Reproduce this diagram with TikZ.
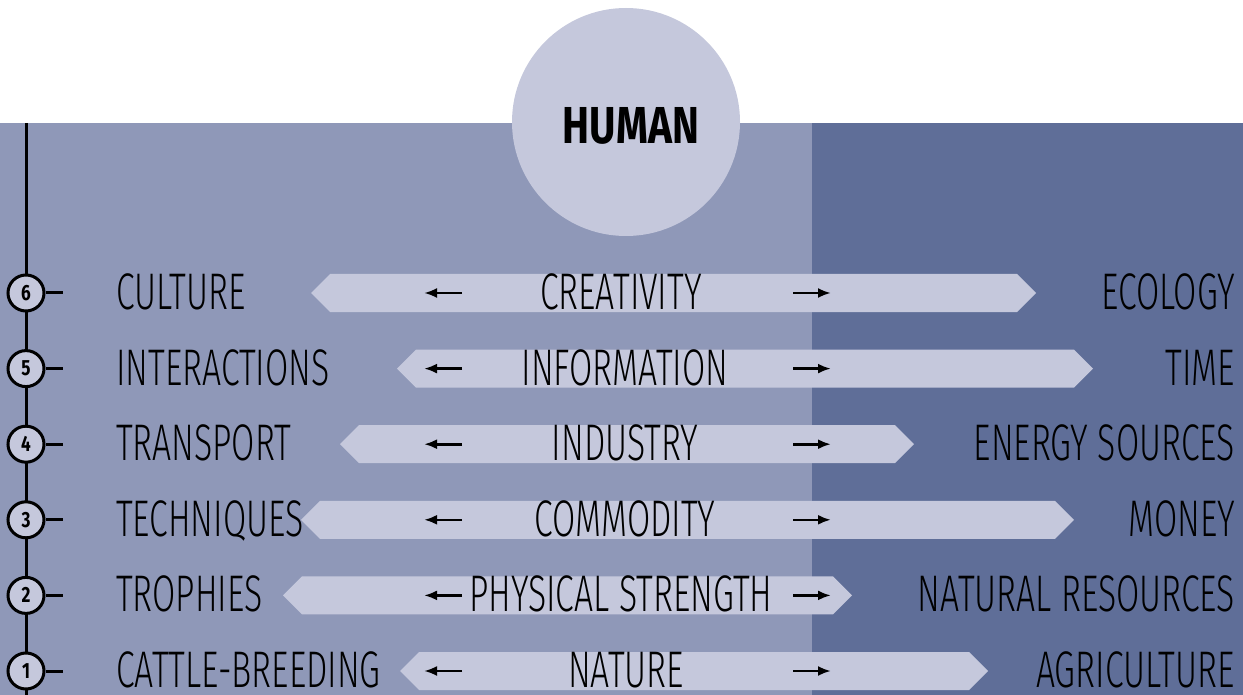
\documentclass[tikz,border=0pt]{standalone}
\usepackage{fontspec}
\setmainfont{Fira Sans}
\newfontfamily\labfont[FakeStretch=0.655]{Fira Sans Light}
\newfontfamily\humfont[FakeStretch=0.78]{Fira Sans}
\usetikzlibrary{shapes.symbols, arrows.meta}
\definecolor{bandL}{HTML}{8F98B8}
\definecolor{bandR}{HTML}{5F6E98}
\definecolor{pale}{HTML}{C5C8DC}
\tikzset{
  lab/.style={inner sep=0, font=\labfont\fontsize{51.5pt}{58pt}\selectfont, text=black},
  barshape/.style={signal, signal to=west and east, signal pointer angle=90, fill=pale, draw=none, minimum height=38pt, inner sep=0, outer sep=0},
  numc/.style={circle, draw=black, line width=3pt, fill=pale, minimum size=36pt, inner sep=0, font=\humfont\bfseries\fontsize{22pt}{24pt}\selectfont},
  timeline/.style={line width=3pt, draw=black},
  smallarr/.style={line width=2.6pt, -{Latex[length=13pt,width=10pt]}}
}
\begin{document}
\begin{tikzpicture}[x=1pt,y=-1pt]
\fill[white] (0,0) rectangle (1243,695);
\useasboundingbox (0,0) rectangle (1243,695);
\fill[bandL] (0,123) rectangle (812,695);
\fill[bandR] (812,123) rectangle (1243,695);
\node[circle, fill=pale, minimum size=228pt, inner sep=0] (human) at (626,122) {};
\node[inner sep=0, font=\humfont\bfseries\fontsize{52pt}{56pt}\selectfont, anchor=base] (humanlbl) at (631,144) {HUMAN};
\coordinate (ltop) at (26,123);
\coordinate (lbot) at (26,695);
\draw[timeline] (ltop) -- (lbot);
\foreach \n/\y/\l/\c/\r/\xl/\xr/\cx in {
  6/293/CULTURE/CREATIVITY/ECOLOGY/311/1036/621,
  5/368.6/INTERACTIONS/INFORMATION/TIME/397/1093/625,
  4/444.2/TRANSPORT/INDUSTRY/ENERGY SOURCES/340/914/625,
  3/519.8/TECHNIQUES/COMMODITY/MONEY/301/1074/625,
  2/595.4/TROPHIES/PHYSICAL STRENGTH/NATURAL RESOURCES/283/852/621,
  1/671/CATTLE-BREEDING/NATURE/AGRICULTURE/400/988/626}{
  \node[barshape, minimum width={(\xr-\xl)*1pt}] (bar\n) at ({(\xl+\xr)/2},\y) {};
  \node[numc] (c\n) at (26,\y) {\n};
  \coordinate (t\n) at (63,\y);
  \draw[timeline] (c\n.east) -- (t\n);
  \node[lab, anchor=base west] (left\n) at (116,\y+16.5) {\l};
  \node[lab, anchor=base] (mid\n) at (\cx,\y+16.5) {\c};
  \node[lab, anchor=base east] (right\n) at (1235,\y+16.5) {\r};
  \coordinate (la\n) at (462,\y);
  \coordinate (lb\n) at (424,\y);
  \coordinate (ra\n) at (793,\y);
  \coordinate (rb\n) at (831,\y);
  \draw[smallarr] (la\n) -- (lb\n);
  \draw[smallarr] (ra\n) -- (rb\n);
}
\end{tikzpicture}
\end{document}
